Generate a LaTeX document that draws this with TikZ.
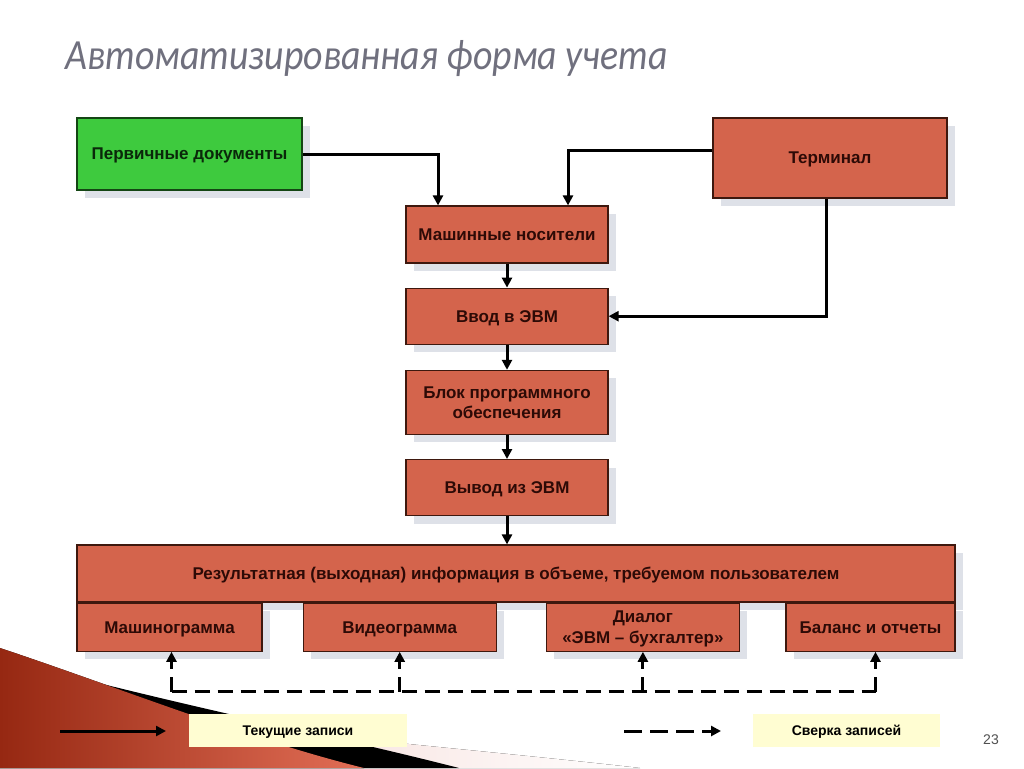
\documentclass[tikz,border=0pt]{standalone}
\usepackage{fontspec}
\setmainfont{Liberation Sans}
\newfontfamily\zagfont[FakeStretch=0.88]{Carlito}
\usetikzlibrary{arrows.meta, positioning, shadows}

\definecolor{kirpich}{RGB}{212,100,76}
\definecolor{zelen}{RGB}{62,202,62}
\definecolor{ramka}{RGB}{62,24,14}
\definecolor{ramkaz}{RGB}{20,70,20}
\definecolor{tekst}{RGB}{45,10,6}
\definecolor{ten}{RGB}{222,225,232}
\definecolor{zhelt}{RGB}{255,253,210}
\definecolor{zagolovok}{RGB}{112,112,126}
\definecolor{krasn}{RGB}{150,40,18}
\definecolor{krasnsvet}{RGB}{226,110,86}
\definecolor{rozov}{RGB}{240,200,194}

\begin{document}
\begin{tikzpicture}[
    x=1pt, y=-1pt,
    node distance = 24pt and 24pt,
    blok/.style = {rectangle, draw=ramka, line width=1.2pt, fill=kirpich, text=tekst,
      font=\bfseries\fontsize{17}{20.5}\selectfont, align=center, inner sep=2pt, text depth=0pt,
      drop shadow={shadow xshift=8pt, shadow yshift=-8pt, fill=ten, opacity=1}},
    strelka/.style = {black, line width=3pt, -{Triangle[length=10pt,width=10pt]}},
    shtrih/.style = {strelka, dash pattern=on 15pt off 8pt},
    legenda/.style = {rectangle, fill=zhelt, minimum height=33pt, text=black, text depth=0pt,
      font=\bfseries\fontsize{14}{16}\selectfont}
    ]

  \useasboundingbox[fill=white] (0,0) rectangle (1024,768);

  % bottom left decoration
  \fill[left color=rozov, right color=white] (180,718) .. controls (330,738) and (480,750) .. (640,768) -- (0,768) -- cycle;
  \fill[black] (40,668) .. controls (200,710) and (330,735) .. (459,768) -- (0,768) -- cycle;
  \fill[left color=krasn, right color=krasnsvet] (0,648) .. controls (120,688) and (250,740) .. (364,768) -- (0,768) -- cycle;

  \node[anchor=west, text=zagolovok] (titel) at (62,59) {\zagfont\itshape\fontsize{43}{46}\selectfont Автоматизированная форма учета} ;

  \node[blok, fill=zelen, draw=ramkaz, text={rgb,255:red,10;green,40;blue,10}, minimum width=225pt, minimum height=72pt] (pd) at (189.5,154) {Первичные документы} ;
  \node[blok, minimum width=234pt, minimum height=80pt] (tm) at (830,158) {Терминал} ;
  \node[blok, minimum width=202pt, minimum height=57pt] (mn) at (507,234.5) {Машинные носители} ;
  \node[blok, minimum width=202pt, minimum height=56pt] (vvod) [below=24pt of mn] {Ввод в ЭВМ} ;
  \node[blok, minimum width=202pt, minimum height=64pt] (bpo) [below=25pt of vvod] {Блок программного\\обеспечения} ;
  \node[blok, minimum width=202pt, minimum height=56pt] (vyvod) [below=24pt of bpo] {Вывод из ЭВМ} ;

  \node[blok, minimum width=878pt, minimum height=57pt] (rez) at (516,573.5) {Результатная (выходная) информация в объеме, требуемом пользователем} ;
  \node[blok, minimum width=185pt, minimum height=48pt, anchor=north west] (mg) at (rez.south west) {Машинограмма} ;
  \node[blok, minimum width=193pt, minimum height=48pt, anchor=north west] (vg) at ([xshift=40pt]mg.north east) {Видеограмма} ;
  \node[blok, minimum width=193pt, minimum height=48pt, anchor=north west] (dl) at ([xshift=49pt]vg.north east) {Диалог\\«ЭВМ – бухгалтер»} ;
  \node[blok, minimum width=169pt, minimum height=48pt, anchor=north east] (bo) at (rez.south east) {Баланс и отчеты} ;

  \draw[strelka] (pd.east) -| ([xshift=-69pt]mn.north) ;
  \draw[strelka] ([yshift=8pt]tm.west) -| ([xshift=61pt]mn.north) ;
  \draw[strelka] ([xshift=-4pt]tm.south) |- (vvod.east) ;
  \path[strelka]
  (mn) edge (vvod)
  (vvod) edge (bpo)
  (bpo) edge (vyvod)
  (vyvod.south) edge (vyvod.south |- rez.north) ;

  \coordinate (d1) at ([xshift=2pt,yshift=-40pt]mg.south) ;
  \coordinate (d2) at ([yshift=-40pt]vg.south) ;
  \coordinate (d3) at ([yshift=-40pt]dl.south) ;
  \coordinate (d4) at ([xshift=5pt,yshift=-40pt]bo.south) ;
  \draw[shtrih, -] (d1) -- (d4) ;
  \path[shtrih]
  (d1) edge (d1 |- mg.south)
  (d2) edge (vg.south)
  (d3) edge (dl.south)
  (d4) edge (d4 |- bo.south) ;

  % legend
  \node[legenda, minimum width=218pt] (tz) at (298,730.5) {Текущие записи} ;
  \node[legenda, minimum width=187pt] (sz) at (846.5,730.5) {Сверка записей} ;
  \coordinate (l1) at (60,731) ;
  \coordinate (l2) at (166,731) ;
  \coordinate (l3) at (624,731) ;
  \coordinate (l4) at (721,731) ;
  \draw[strelka] (l1) -- (l2) ;
  \draw[shtrih, dash pattern=on 18pt off 8pt] (l3) -- (l4) ;

  \node[text={rgb,255:red,80;green,80;blue,80}, font=\fontsize{14}{16}\selectfont] (nomer) at (991,740) {23} ;
\end{tikzpicture}
\end{document}
